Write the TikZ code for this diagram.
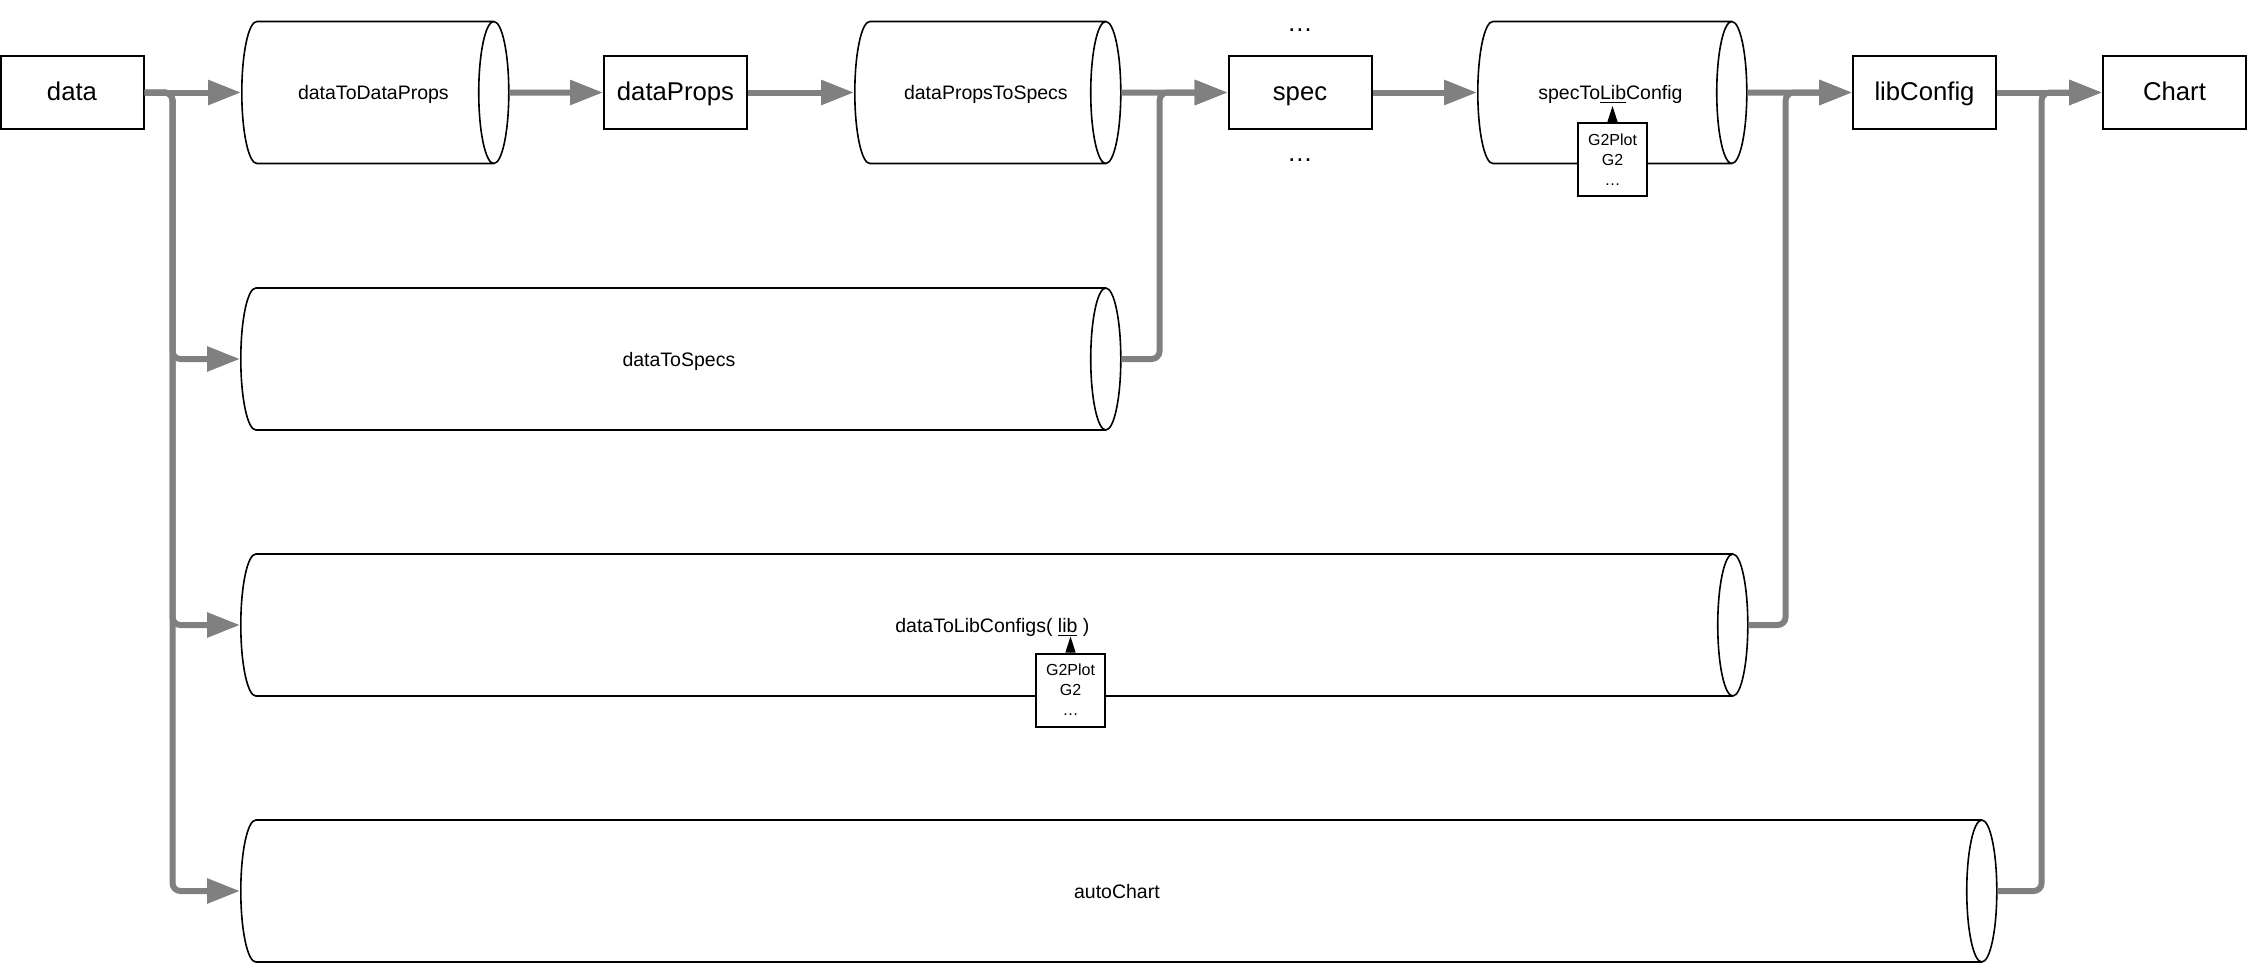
\documentclass[tikz,border=0pt]{standalone}
\usepackage{fontspec}
\setmainfont{Liberation Sans}
\usepackage{xcolor}
\usepackage{tikz}
\usetikzlibrary{positioning,arrows.meta,shapes.geometric}
\definecolor{flowgray}{HTML}{808080}
\tikzset{
  box/.style={
    draw=black, line width=1pt, minimum width=71.5pt, minimum height=36.5pt,
    inner sep=0pt, text height=9.5pt, text depth=2pt,
    font=\fontsize{12.85}{15}\selectfont},
  pipe/.style={
    cylinder, draw=black, line width=0.8pt, shape aspect=1.67,
    minimum width=71pt, inner sep=0pt, text height=8pt, text depth=1pt,
    execute at begin node=\hspace*{6pt},
    font=\fontsize{9.75}{12}\selectfont},
  libbox/.style={
    draw=black, fill=white, line width=1pt, minimum width=34.5pt,
    minimum height=36.5pt, inner sep=0pt, align=center,
    font=\fontsize{8}{10}\selectfont},
  dots/.style={inner sep=0pt, font=\fontsize{12.85}{15}\selectfont},
  flow/.style={draw=flowgray, line width=3pt, -{Triangle[length=16.5pt,width=12pt]}},
  merge/.style={flow, rounded corners=4pt},
  pick/.style={draw=black, line width=0.6pt, -{Triangle[length=8pt,width=5pt]}},
}

\begin{document}
\begin{tikzpicture}
  \useasboundingbox (0,0) rectangle (1123.5pt,-482pt);

  % main chain
  \node[box] (data) at (36pt,-46.25pt) {data};
  \node[pipe, minimum height=133.5pt, anchor=west] (dtdp) at (120.5pt,-46.25pt)
    {dataToDataProps};
  \node[box] (dprops) at (337.75pt,-46.25pt) {dataProps};
  \node[pipe, minimum height=133pt, anchor=west] (dpts) at (427pt,-46.25pt)
    {dataPropsToSpecs};
  \node[box] (spec) at (650pt,-46.25pt) {spec};
  \node[pipe, minimum height=134.5pt, anchor=west] (stlc) at (738.5pt,-46.25pt)
    {specTo\underline{Lib}Config};
  \node[box] (libcfg) at (962.25pt,-46.25pt) {libConfig};
  \node[box] (chart) at (1087.25pt,-46.25pt) {Chart};

  \node[dots, above=11.5pt of spec] (moreup) {\ldots};
  \node[dots, below=14pt of spec] (moredown) {\ldots};

  % shortcuts
  \node[pipe, minimum height=440pt, anchor=west] (dts) at (120pt,-179.5pt) {dataToSpecs};
  \node[pipe, minimum height=753.5pt, anchor=west] (dtlc) at (120pt,-312.5pt)
    {dataToLibConfigs( \underline{lib} )};
  \node[pipe, minimum height=878pt, anchor=west] (auto) at (120pt,-445.5pt) {autoChart};

  % lib choices
  \node[libbox] (libs1) at (806.25pt,-79.75pt) {G2Plot\\G2\\\ldots};
  \node[libbox] (libs2) at (535.25pt,-345pt) {G2Plot\\G2\\\ldots};
  \coordinate[above=8pt of libs1.north] (libmark1);
  \coordinate[above=8pt of libs2.north] (libmark2);
  \draw[pick] (libs1.north) -- (libmark1);
  \draw[pick] (libs2.north) -- (libmark2);

  \draw[flow] (data.east) -- (dtdp.west);
  \draw[flow] (dtdp.east) -- (dprops.west);
  \draw[flow] (dprops.east) -- (dpts.west);
  \draw[flow] (dpts.east) -- (spec.west);
  \draw[flow] (spec.east) -- (stlc.west);
  \draw[flow] (stlc.east) -- (libcfg.west);
  \draw[flow] (libcfg.east) -- (chart.west);

  \draw[merge] (data.east) -- ++(14pt,0) |- (dts.west);
  \draw[merge] (data.east) -- ++(14pt,0) |- (dtlc.west);
  \draw[merge] (data.east) -- ++(14pt,0) |- (auto.west);

  \draw[merge] (dts.east) -- ++(19pt,0) |- (spec.west);
  \draw[merge] (dtlc.east) -- ++(18.5pt,0) |- (libcfg.west);
  \draw[merge] (auto.east) -- ++(22pt,0) |- (chart.west);

\end{tikzpicture}
\end{document}
